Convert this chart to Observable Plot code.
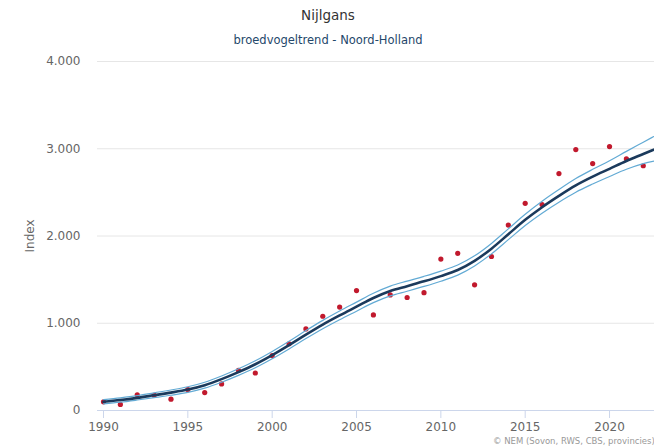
<!DOCTYPE html>
<html>
<head>
<meta charset="utf-8">
<script src="https://cdn.jsdelivr.net/npm/d3@7"></script>
<script src="https://cdn.jsdelivr.net/npm/@observablehq/plot@0.6"></script>
<style>
  html, body { margin: 0; padding: 0; background: #fff; overflow: hidden; }
  #wrap { position: relative; width: 654px; height: 446px; overflow: hidden; background: #fff; font-family: "DejaVu Sans", sans-serif; }
  #title { position: absolute; left: 0; width: 656px; top: 7px; text-align: center; font-size: 13.5px; color: #333; }
  #subtitle { position: absolute; left: 0; width: 656px; top: 33px; text-align: center; font-size: 11.5px; color: #24476a; }
  #chart { position: absolute; left: 0; top: 50px; width: 690px; }
  #chart svg { max-width: none !important; }
  #credit { position: absolute; left: 493px; top: 436px; font-size: 8.5px; line-height: 10px; color: #999; white-space: nowrap; }
</style>
</head>
<body>
<div id="wrap">
  <div id="title">Nijlgans</div>
  <div id="subtitle">broedvogeltrend - Noord-Holland</div>
  <div id="chart"></div>
  <div id="credit">© NEM (Sovon, RWS, CBS, provincies)</div>
</div>
<script>
// Observed index values (red dots)
const obsYears = [1990,1991,1992,1993,1994,1995,1996,1997,1998,1999,2000,2001,2002,2003,2004,2005,2006,2007,2008,2009,2010,2011,2012,2013,2014,2015,2016,2017,2018,2019,2020,2021,2022];
const obsIndex = [100,70,180,175,130,240,205,305,460,430,630,765,935,1080,1185,1375,1095,1325,1295,1350,1735,1800,1440,1765,2125,2375,2360,2715,2990,2830,3025,2885,2805];

// Trend line and confidence band
const trendYears = [1990,1991,1992,1993,1994,1995,1996,1997,1998,1999,2000,2001,2002,2003,2004,2005,2006,2007,2008,2009,2010,2011,2012,2013,2014,2015,2016,2017,2018,2019,2020,2021,2022,2023];
const trendIndex = [100,120,145,175,205,240,290,360,440,530,635,750,870,985,1090,1190,1290,1370,1425,1480,1540,1610,1715,1855,2020,2185,2330,2460,2580,2680,2770,2860,2940,3020];
const upperIndex = [125,145,170,203,235,272,324,396,478,570,677,794,916,1033,1140,1242,1344,1426,1483,1538,1598,1668,1773,1915,2082,2249,2398,2532,2658,2764,2862,2970,3075,3180];
const lowerIndex = [75,95,120,147,175,208,256,324,402,490,593,706,824,937,1040,1138,1236,1314,1367,1422,1482,1552,1657,1795,1958,2121,2262,2388,2502,2596,2682,2765,2830,2870];

const xTicks = [1990,1995,2000,2005,2010,2015,2020];
const yTicks = [0,1000,2000,3000,4000];

const obs = obsYears.map((y, i) => ({year: y, value: obsIndex[i]}));
const trend = trendYears.map((y, i) => ({year: y, value: trendIndex[i], upper: upperIndex[i], lower: lowerIndex[i]}));

const nlFormat = d => d3.format(",")(d).replace(/,/g, ".");

const chart = Plot.plot({
  width: 690,
  height: 396,
  marginTop: 11,
  marginBottom: 36,
  marginLeft: 97,
  marginRight: 0,
  style: {fontFamily: "DejaVu Sans, sans-serif", color: "#666", background: "transparent", maxWidth: "none"},
  x: {domain: [1989.644, 2024.8]},
  y: {domain: [0, 4000]},
  marks: [
    Plot.gridY(yTicks, {stroke: "#e6e6e6", strokeOpacity: 1}),
    Plot.ruleY([0], {stroke: "#ccd6eb"}),
    Plot.axisY(yTicks, {
      tickSize: 0, tickPadding: 17, tickFormat: nlFormat, fontSize: 12, fill: "#666",
      label: "Index", labelAnchor: "center", labelArrow: "none", labelOffset: 72
    }),
    Plot.axisX(xTicks, {
      tickSize: 8, tickPadding: 4, stroke: "#ccd6eb", fill: "#666", fontSize: 12,
      tickFormat: d => String(d), label: null
    }),
    Plot.dot(obs, {x: "year", y: "value", r: 2.6, fill: "#c1192d", stroke: "none"}),
    Plot.line(trend, {x: "year", y: "upper", stroke: "#62aad4", strokeWidth: 1.2, curve: "monotone-x"}),
    Plot.line(trend, {x: "year", y: "lower", stroke: "#62aad4", strokeWidth: 1.2, curve: "monotone-x"}),
    Plot.line(trend, {x: "year", y: "value", stroke: "#1b3a5c", strokeWidth: 2.6, curve: "monotone-x"})
  ]
});
document.getElementById("chart").appendChild(chart);
</script>
</body>
</html>
